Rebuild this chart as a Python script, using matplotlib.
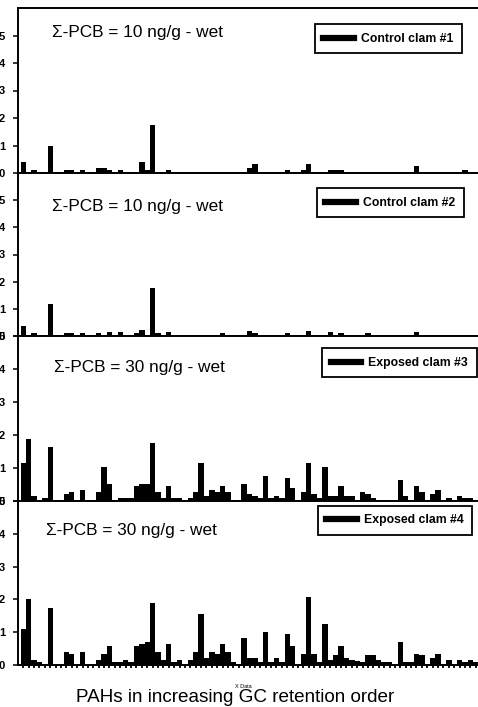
import matplotlib
matplotlib.use("Agg")
import matplotlib.pyplot as plt
from matplotlib.lines import Line2D
import numpy as np

plt.rcParams['font.family'] = ['Liberation Sans', 'DejaVu Sans']

N = 85
x = np.arange(N)

def series(pairs):
    v = [0.0] * N
    for i, val in pairs.items():
        v[i] = val
    return v

# Control clam #1
control1 = series({0: 0.04, 2: 0.011, 5: 0.10, 8: 0.011, 9: 0.011, 11: 0.011,
                   14: 0.018, 15: 0.018, 16: 0.011, 18: 0.011, 22: 0.04, 23: 0.011,
                   24: 0.173, 27: 0.011, 42: 0.018, 43: 0.033, 49: 0.011, 52: 0.011,
                   53: 0.033, 57: 0.011, 58: 0.011, 59: 0.011, 73: 0.025, 82: 0.011})
# Control clam #2
control2 = series({0: 0.037, 2: 0.01, 5: 0.118, 8: 0.01, 9: 0.01, 11: 0.01, 14: 0.01,
                   16: 0.015, 18: 0.015, 21: 0.01, 22: 0.022, 24: 0.176, 25: 0.01,
                   27: 0.015, 37: 0.01, 42: 0.02, 43: 0.01, 49: 0.01, 53: 0.02,
                   54: 0.005, 57: 0.015, 59: 0.01, 64: 0.01, 73: 0.015})
# Exposed clam #3
exposed3 = [0.114, 0.188, 0.015, 0.0, 0.01, 0.163, 0.0, 0.0, 0.022, 0.028,
            0.0, 0.034, 0.0, 0.0, 0.028, 0.102, 0.052, 0.0, 0.01, 0.01,
            0.01, 0.046, 0.052, 0.052, 0.175, 0.028, 0.01, 0.046, 0.01, 0.01,
            0.0, 0.01, 0.028, 0.114, 0.015, 0.034, 0.028, 0.046, 0.028, 0.0,
            0.0, 0.052, 0.022, 0.015, 0.01, 0.077, 0.01, 0.015, 0.01, 0.071,
            0.04, 0.0, 0.028, 0.114, 0.022, 0.01, 0.102, 0.015, 0.015, 0.046,
            0.015, 0.015, 0.0, 0.028, 0.022, 0.01, 0.0, 0.0, 0.0, 0.0,
            0.065, 0.015, 0.0, 0.046, 0.028, 0.0, 0.022, 0.034, 0.0, 0.01,
            0.0, 0.015, 0.01, 0.01, 0.0]
# Exposed clam #4
exposed4 = [0.11, 0.20, 0.015, 0.01, 0.0, 0.175, 0.0, 0.0, 0.04, 0.034,
            0.0, 0.04, 0.0, 0.0, 0.015, 0.034, 0.058, 0.01, 0.01, 0.015,
            0.01, 0.058, 0.065, 0.071, 0.188, 0.04, 0.015, 0.065, 0.01, 0.015,
            0.0, 0.015, 0.04, 0.157, 0.02, 0.04, 0.034, 0.065, 0.04, 0.01,
            0.003, 0.083, 0.02, 0.02, 0.01, 0.10, 0.01, 0.02, 0.01, 0.095,
            0.058, 0.0, 0.034, 0.206, 0.034, 0.01, 0.126, 0.015, 0.03, 0.058,
            0.02, 0.015, 0.012, 0.01, 0.03, 0.03, 0.015, 0.01, 0.01, 0.0,
            0.071, 0.01, 0.01, 0.034, 0.03, 0.0, 0.02, 0.034, 0.0, 0.015,
            0.0, 0.015, 0.01, 0.015, 0.01]

series_list = [control1, control2, exposed3, exposed4]
labels = ["Control clam #1", "Control clam #2", "Exposed clam #3", "Exposed clam #4"]
pcb_text = ["\u03a3-PCB = 10 ng/g - wet", "\u03a3-PCB = 10 ng/g - wet",
            "\u03a3-PCB = 30 ng/g - wet", "\u03a3-PCB = 30 ng/g - wet"]
ymaxes = [0.6, 0.6, 0.5, 0.5]
yticks = [0, 0.1, 0.2, 0.3, 0.4, 0.5]
# visible part of the (edge-cropped) y tick labels in the original
ytick_labels = ["0", "1", "2", "3", "4", "5"]
xlabel = "PAHs in increasing GC retention order"

W, H = 478, 707
fig = plt.figure(figsize=(W / 100, H / 100), dpi=100)

bounds = [(8, 173), (173, 336), (336, 501), (501, 665)]
left_px = 17.5
xlim = (-1.08, 85.0)
right_px = left_px + (xlim[1] - xlim[0]) * 5.386

text_pos = [(52.5, 32), (51.5, 206), (54, 367), (46.5, 530)]
leg_pos = [(462.3, 24.3), (464, 188.3), (476.7, 348.3), (472.3, 505.7)]

for k, (vals, lab) in enumerate(zip(series_list, labels)):
    top, bot = bounds[k]
    ax = fig.add_axes([left_px / W, 1 - bot / H, (right_px - left_px) / W, (bot - top) / H])
    ax.bar(x, vals, width=1.0, color='black', edgecolor='none', label=lab)
    ax.set_xlim(*xlim)
    ax.set_ylim(0, ymaxes[k])
    ax.set_yticks(yticks)
    ax.set_yticklabels(ytick_labels, fontsize=8, fontweight='bold')
    ax.tick_params(axis='y', direction='out', length=3.6, width=1.1, pad=5.4)
    for s in ['left', 'top', 'bottom']:
        ax.spines[s].set_linewidth(1.4)
    ax.spines['right'].set_visible(False)
    if k == 3:
        ax.set_xticks(x)
        ax.tick_params(axis='x', direction='out', length=2.2, width=1.3, labelbottom=False)
    else:
        ax.set_xticks([])
    tx, ty = text_pos[k]
    fig.text(tx / W, 1 - ty / H, pcb_text[k], fontsize=12.4, ha='left', va='center')
    handle = Line2D([0], [0], color='black', lw=4.5)
    lx, ly = leg_pos[k]
    leg = ax.legend([handle], [lab], loc='upper right',
                    bbox_to_anchor=(lx / W, 1 - ly / H), bbox_transform=fig.transFigure,
                    borderaxespad=0, frameon=True, fancybox=False, framealpha=1,
                    handlelength=2.5, handletextpad=0.6, borderpad=0.7,
                    prop={'size': 8.8, 'weight': 'bold'})
    leg.get_frame().set_edgecolor('black')
    leg.get_frame().set_linewidth(1.3)

fig.text(235.5 / W, 1 - 701.8 / H, xlabel, fontsize=13.6, ha='center', va='baseline')
fig.text(243 / W, 1 - 686 / H, "X Data", fontsize=4, ha='center', va='center')

fig.savefig("out.png", dpi=100)
